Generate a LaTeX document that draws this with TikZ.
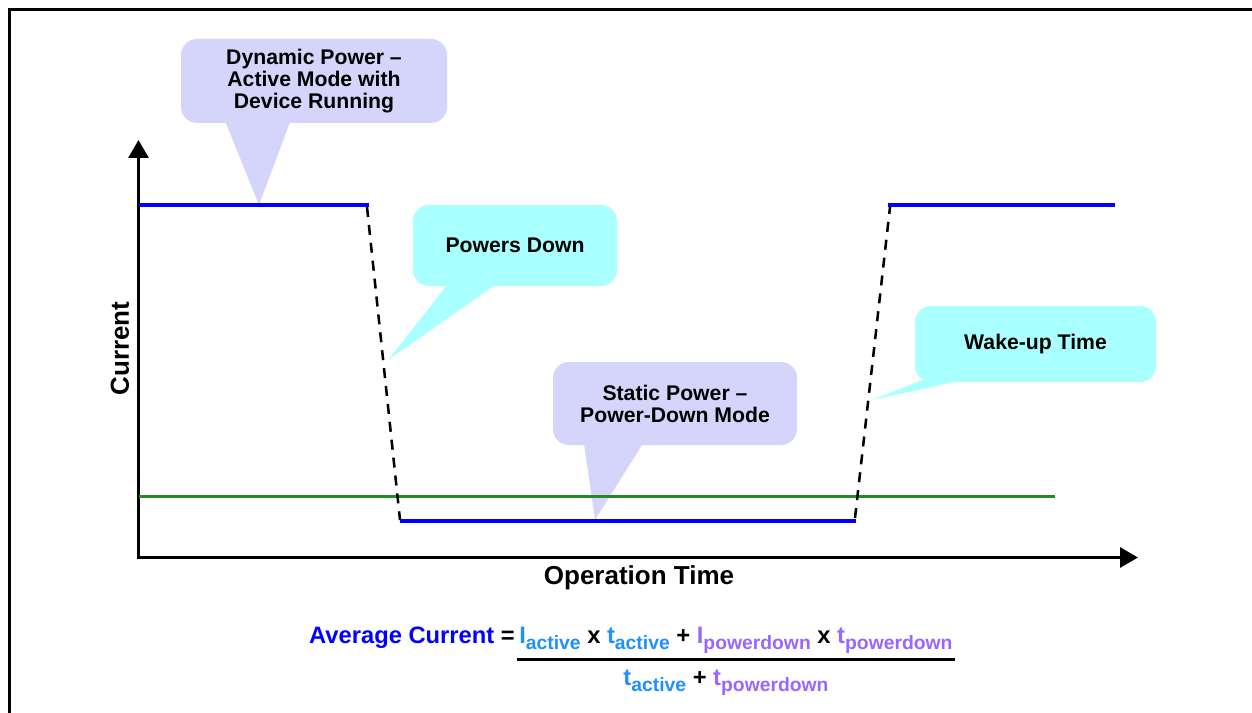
\documentclass[tikz,border=0pt]{standalone}
\usepackage{fontspec}
\setmainfont{Liberation Sans}
\usetikzlibrary{arrows.meta,calc}
\definecolor{lav}{RGB}{213,213,252}
\definecolor{cy}{RGB}{170,255,255}
\definecolor{lblue}{RGB}{30,144,255}
\definecolor{purp}{RGB}{153,102,255}
\definecolor{dblue}{RGB}{0,0,255}
\definecolor{grn}{RGB}{34,139,34}
\newcommand\sbs[1]{\raisebox{-4.5pt}{\fontsize{14.5}{14.5}\selectfont #1}}
\begin{document}
\begin{tikzpicture}[x=0.75pt,y=-0.75pt,
  callout/.style={rounded corners=12pt, inner sep=0pt, align=center,
    font=\fontsize{15.9}{16.4}\selectfont\bfseries},
  axis/.style={line width=2.25pt, -{Triangle[length=13.5pt,width=15pt]}},
  level/.style={line width=2.5pt, dblue},
  trans/.style={line width=1.9pt, dash pattern=on 7.5pt off 6pt},
  frame/.style={line width=1.9pt},
  fml/.style={font=\fontsize{17.8}{20}\selectfont\bfseries, inner sep=0pt}]
\useasboundingbox (0,0) rectangle (1252,713);
% frame
\draw[frame] (9.5,713) -- (9.5,9.5) -- (1252,9.5);
% callout boxes
\node[callout, fill=lav, minimum width=199.5pt, minimum height=63pt] (dyn) at (314,81)
  {Dynamic Power --\\Active Mode with\\Device Running};
\node[callout, fill=cy, minimum width=153pt, minimum height=60.75pt] (pd) at (515,245.5)
  {Powers Down};
\node[callout, fill=cy, minimum width=180.75pt, minimum height=57pt] (wk) at (1035.5,344)
  {Wake-up Time};
\node[callout, fill=lav, minimum width=183pt, minimum height=62.25pt] (st) at (675,403.5)
  {Static Power --\\Power-Down Mode};
% pointer tips
\coordinate (dyntip) at (259,205);
\coordinate (pdtip) at (388,360);
\coordinate (wktip) at (872,400);
\coordinate (sttip) at (595,520);
\fill[lav] ($(dyn.south west)+(44,-3)$) -- (dyntip) -- ($(dyn.south west)+(110,-3)$) -- cycle;
\fill[cy] ($(pd.south west)+(36,-3)$) -- (pdtip) -- ($(pd.south west)+(85,-3)$) -- cycle;
\fill[cy] ($(wk.south west)+(12,-4)$) -- (wktip) -- ($(wk.south west)+(52,-3)$) -- cycle;
\fill[lav] ($(st.south west)+(31,-3)$) -- (sttip) -- ($(st.south west)+(91,-3)$) -- cycle;
% axes
\coordinate (O) at (138.5,557.5);
\coordinate (ytop) at (138.5,140);
\coordinate (xend) at (1138,557.5);
\draw[axis] ($(O)+(0,1.5)$) -- (ytop);
\draw[axis] ($(O)+(-1.5,0)$) -- (xend);
\node[font=\fontsize{19.5}{22}\selectfont\bfseries, rotate=90] (ylab) at (120,348.5) {Current};
\node[font=\fontsize{19.5}{22}\selectfont\bfseries, anchor=base] (xlab) at (639,584) {Operation Time};
% green average line
\coordinate (g1) at (139,496);
\coordinate (g2) at (1055,496);
\draw[line width=2.25pt, grn] (g1) -- (g2);
% current profile
\coordinate (a1) at (139,205);
\coordinate (a2) at (369,205);
\coordinate (d1) at (367,207);
\coordinate (d2) at (400,520);
\coordinate (b1) at (400,521);
\coordinate (b2) at (856,521);
\coordinate (u1) at (855,518);
\coordinate (u2) at (890,207);
\coordinate (c1) at (888,205);
\coordinate (c2) at (1115,205);
\draw[level] (a1) -- (a2);
\draw[level] (b1) -- (b2);
\draw[level] (c1) -- (c2);
\draw[trans] (d1) -- (d2);
\draw[trans] (u1) -- (u2);
% formula
\node[fml, anchor=base east] (avg) at (515,643) {\textcolor{dblue}{Average Current} =};
\node[fml, anchor=base west] (num) at (519,643)
  {\textcolor{lblue}{I\sbs{active}} x \textcolor{lblue}{t\sbs{active}} + \textcolor{purp}{I\sbs{powerdown}} x \textcolor{purp}{t\sbs{powerdown}}};
\coordinate (f1) at (517,659.5);
\coordinate (f2) at (955,659.5);
\draw[line width=2pt] (f1) -- (f2);
\node[fml, anchor=base] (den) at (726,685)
  {\textcolor{lblue}{t\sbs{active}} + \textcolor{purp}{t\sbs{powerdown}}};
\end{tikzpicture}
\end{document}
